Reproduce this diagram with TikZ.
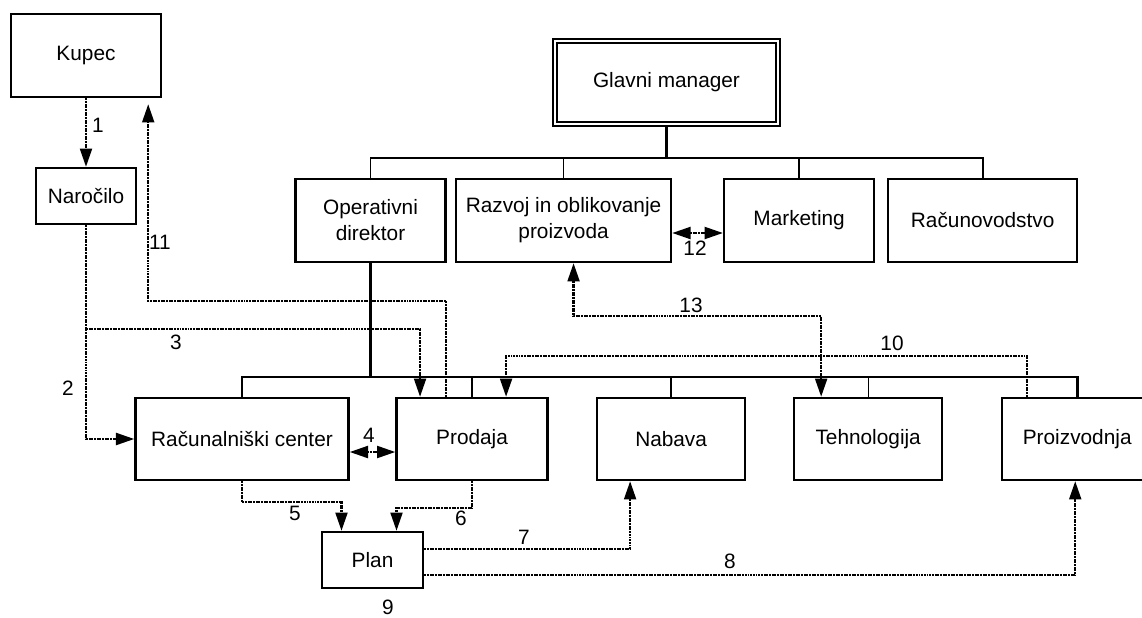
\documentclass[tikz,border=0pt]{standalone}
\usepackage{fontspec}
\setmainfont{Liberation Sans}
\usetikzlibrary{arrows.meta}
\tikzstyle{boxes} = [rectangle, minimum width=3.75cm, minimum height=2.075cm, align=center, draw=black, line width=1.7pt, font=\fontsize{14.8}{18.5}\selectfont]
\tikzstyle{lowbox} = [boxes, minimum width=3.7cm, minimum height=2.05cm]
\tikzstyle{tree} = [line width=1.9pt]
\tikzstyle{twig} = [line width=1.4pt]
\tikzstyle{hair} = [line width=0.8pt]
\tikzstyle{flow} = [line width=1.6pt, dash pattern=on 1.4pt off 0.5pt, ->, >={Triangle[length=13pt,width=8.5pt,sep=0pt]}]
\tikzstyle{flowboth} = [flow, <->]
\tikzstyle{num} = [inner sep=0pt, font=\fontsize{14.8}{18}\selectfont]

\begin{document}
\begin{tikzpicture}[x=0.025cm, y=-0.025cm]
    \useasboundingbox (0,0) rectangle (1142,617);

    \node (kupec) [boxes] at (86,55.5) {Kupec};

    \node (nar) [boxes, minimum width=2.5cm, minimum height=1.4cm, below of=kupec, yshift=-2.5125cm] {Naročilo};

    \node (gm) [boxes, minimum width=5.575cm, double, double distance=1.1pt, line width=1.5pt] at (666.5,82.5) {Glavni manager};

    \node (opd) [boxes] at (370.5,220.5) {Operativni\\direktor};

    \node (raz) [boxes, minimum width=5.375cm, right of=opd, xshift=3.825cm] {Razvoj in oblikovanje\\proizvoda};

    \node (mark) [boxes, right of=raz, xshift=4.8875cm] {Marketing};

    \node (racu) [boxes, minimum width=4.725cm, right of=mark, xshift=3.5875cm] {Računovodstvo};

    \node (rc) [lowbox, minimum width=5.325cm] at (242,439) {Računalniški center};

    \node (prod) [lowbox, minimum width=3.775cm, right of=rc, xshift=4.75cm] {Prodaja};

    \node (nab) [lowbox, right of=prod, xshift=3.975cm] {Nabava};

    \node (teh) [lowbox, right of=nab, xshift=3.925cm] {Tehnologija};

    \node (proiz) [lowbox, minimum width=3.75cm, right of=teh, xshift=4.225cm] {Proizvodnja};

    \node (plan) [boxes, minimum width=2.525cm, minimum height=1.4cm] at (372.5,560) {Plan};

    % organisation lines
    \coordinate (top) at (0,158);
    \coordinate (low) at (0,377);
    \draw[tree] (gm.south) -- (gm.south |- top);
    \draw[twig] (opd.north) |- (racu.north |- top) -- (racu.north);
    \draw[hair] (raz.north) -- (raz.north |- top);
    \draw[twig] (mark.north) -- (mark.north |- top);
    \draw[tree] (opd.south) -- (opd.south |- low);
    \draw[tree] (rc.north) |- (proiz.north |- low) -- (proiz.north);
    \draw[tree] (prod.north) -- (prod.north |- low);
    \draw[tree] (nab.north) -- (nab.north |- low);
    \draw[hair] (teh.north) -- (teh.north |- low);

    % order flow
    \coordinate (split) at (86,329);
    \draw[flow] (kupec) -- (nar);
    \draw[flow] (nar.south) |- (rc.west);
    \draw[flow] (split) -| ([xshift=-1.3cm]prod.north);
    \draw[flowboth] ([yshift=-0.325cm]rc.east) -- ([yshift=-0.325cm]prod.west);
    \draw[flow] (rc.south) -- ++(0,21) -| ([xshift=-0.775cm]plan.north);
    \draw[flow] (prod.south) -- ++(0,27) -| ([xshift=0.6cm]plan.north);
    \draw[flow] ([yshift=0.275cm]plan.east) -| ([xshift=-1.025cm]nab.south);
    \draw[flow] ([yshift=-0.375cm]plan.east) -| ([xshift=-0.05cm]proiz.south);
    \draw[flow] ([xshift=-1.25cm]proiz.north) -- ++(0,-41) -| ([xshift=0.85cm]prod.north);
    \draw[flow] ([xshift=-0.65cm]prod.north) -- ++(0,-96) -| ([xshift=-0.35cm,yshift=-0.15cm]kupec.south east);
    \draw[flowboth] ([yshift=-0.3125cm]raz.east) -- ([yshift=-0.3125cm]mark.west);
    \draw[flowboth] ([xshift=0.25cm]raz.south) -- ++(0,53) -| ([xshift=-1.175cm]teh.north);

    % step numbers
    \node (n1) [num] at (98,125) {1};
    \node (n2) [num] at (68,388) {2};
    \node (n3) [num] at (176,342) {3};
    \node (n4) [num] at (369,435) {4};
    \node (n5) [num] at (295,513) {5};
    \node (n6) [num] at (461,518) {6};
    \node (n7) [num] at (524,537) {7};
    \node (n8) [num] at (730,561) {8};
    \node (n9) [num] at (388,607) {9};
    \node (n10) [num] at (892,343) {10};
    \node (n11) [num] at (160,242) {11};
    \node (n12) [num] at (695,248) {12};
    \node (n13) [num] at (691,305) {13};

\end{tikzpicture}
\end{document}
